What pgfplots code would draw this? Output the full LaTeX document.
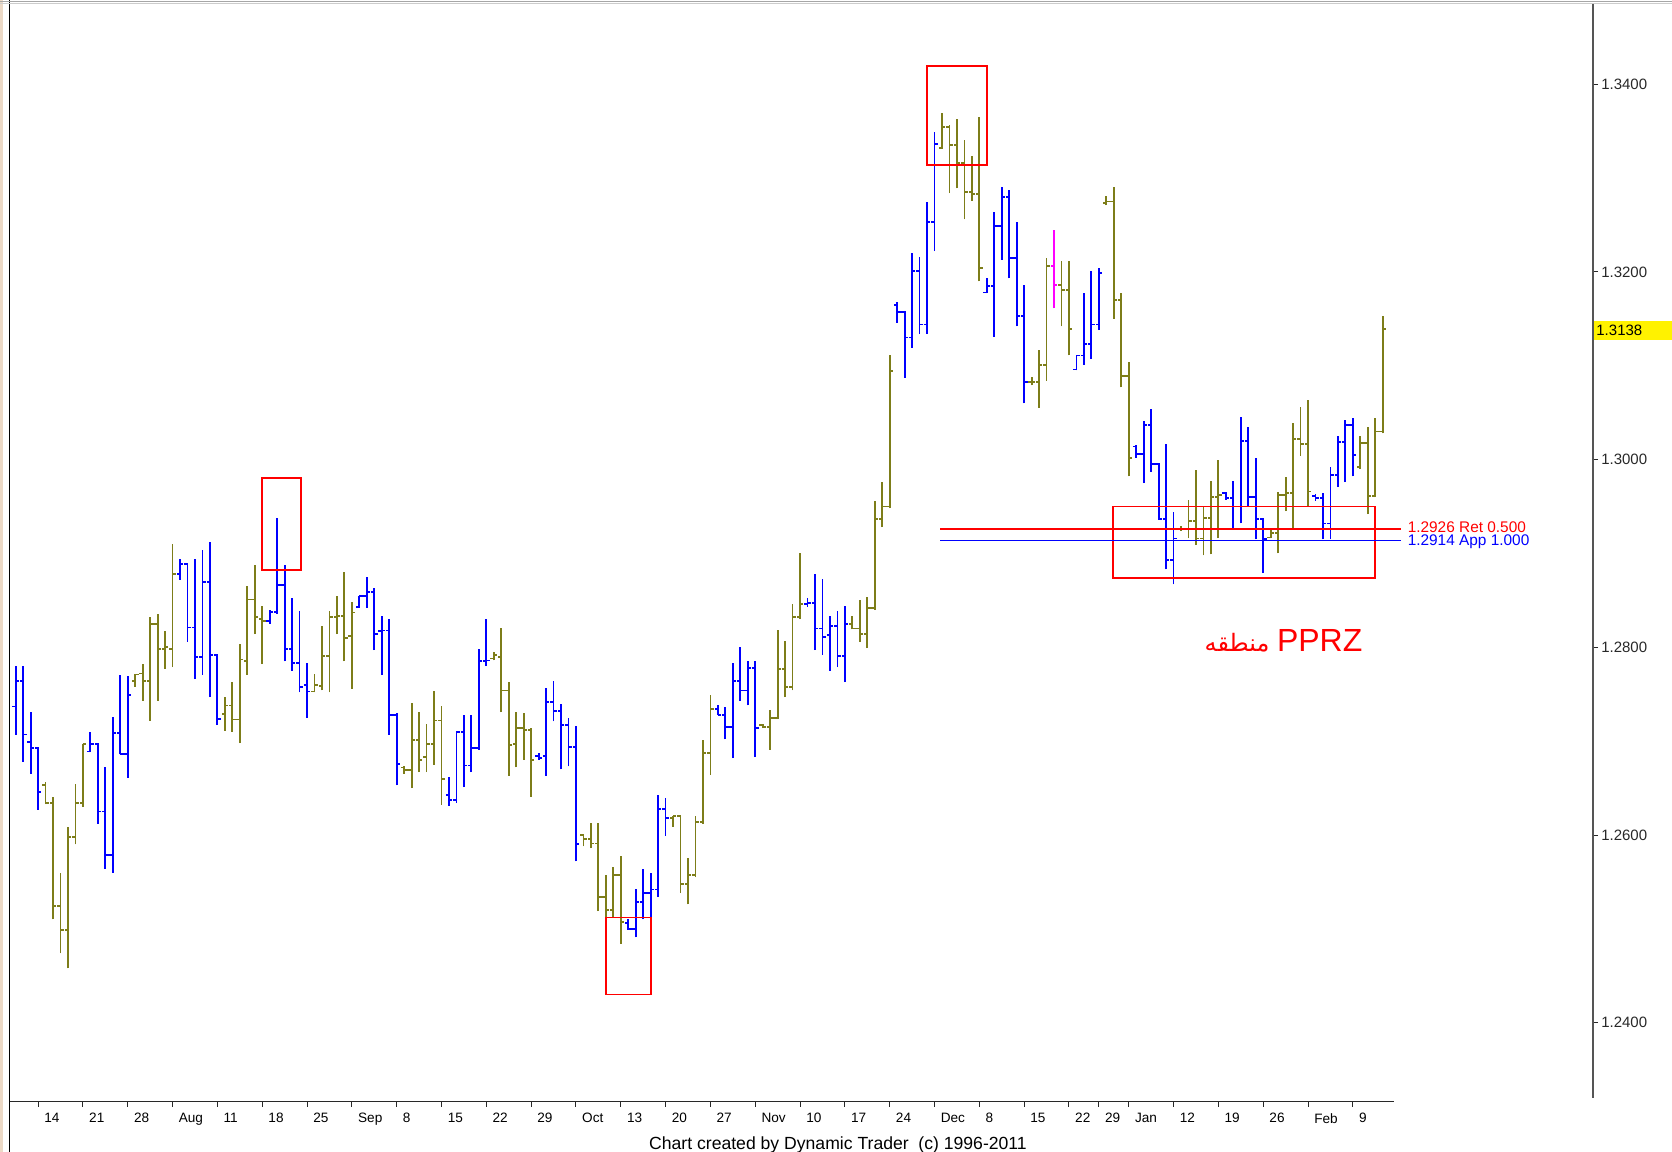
\documentclass[border=0pt]{standalone}
\usepackage{pgfplots}
\pgfplotsset{compat=1.18}
\usepackage{pgfplotstable}
\usepackage{fontspec}
\setmainfont{Liberation Sans}
\newfontfamily\arabicfont[Script=Arabic]{DejaVu Sans}
\TeXXeTstate=1
\definecolor{barblue}{RGB}{0,0,255}
\definecolor{barolive}{RGB}{125,125,25}
\definecolor{barmag}{RGB}{255,0,255}
\definecolor{tickgray}{RGB}{40,40,40}
\definecolor{axgray}{RGB}{85,85,85}

% x = bar index, o h l c = open high low close
\pgfplotstableread{
x o h l c
0 1.2737 1.2780 1.2707 1.2764
1 1.2764 1.2780 1.2678 1.2707
2 1.2699 1.2731 1.2665 1.2693
3 1.2693 1.2694 1.2627 1.2646
10 1.2689 1.2710 1.2688 1.2697
11 1.2697 1.2698 1.2612 1.2625
12 1.2625 1.2672 1.2564 1.2579
13 1.2579 1.2726 1.2560 1.2709
14 1.2709 1.2770 1.2686 1.2686
15 1.2686 1.2769 1.2661 1.2749
22 1.2878 1.2894 1.2872 1.2889
23 1.2889 1.2890 1.2806 1.2821
24 1.2821 1.2894 1.2766 1.2790
25 1.2790 1.2904 1.2771 1.2870
26 1.2870 1.2912 1.2747 1.2792
27 1.2792 1.2793 1.2717 1.2724
34 1.2828 1.2840 1.2825 1.2838
35 1.2838 1.2938 1.2836 1.2866
36 1.2866 1.2888 1.2785 1.2798
37 1.2798 1.2852 1.2775 1.2783
38 1.2783 1.2839 1.2752 1.2758
39 1.2760 1.2783 1.2725 1.2753
46 1.2843 1.2855 1.2842 1.2855
47 1.2855 1.2875 1.2842 1.2859
48 1.2859 1.2863 1.2797 1.2814
49 1.2817 1.2833 1.2771 1.2818
50 1.2818 1.2830 1.2707 1.2728
51 1.2728 1.2730 1.2653 1.2676
58 1.2643 1.2662 1.2631 1.2637
59 1.2637 1.2710 1.2634 1.2710
60 1.2710 1.2728 1.2651 1.2674
61 1.2674 1.2728 1.2667 1.2693
62 1.2693 1.2798 1.2691 1.2785
63 1.2785 1.2830 1.2780 1.2786
70 1.2684 1.2687 1.2680 1.2682
71 1.2684 1.2757 1.2663 1.2742
72 1.2742 1.2764 1.2721 1.2732
73 1.2732 1.2740 1.2670 1.2717
74 1.2717 1.2725 1.2673 1.2694
75 1.2694 1.2716 1.2572 1.2590
82 1.2506 1.2511 1.2499 1.2500
83 1.2500 1.2542 1.2491 1.2529
84 1.2529 1.2564 1.2510 1.2538
85 1.2538 1.2559 1.2502 1.2542
86 1.2542 1.2643 1.2534 1.2628
87 1.2628 1.2639 1.2599 1.2618
94 1.2734 1.2738 1.2728 1.2728
95 1.2728 1.2736 1.2702 1.2715
96 1.2715 1.2783 1.2682 1.2764
97 1.2764 1.2800 1.2743 1.2754
98 1.2754 1.2785 1.2738 1.2778
99 1.2778 1.2785 1.2683 1.2714
106 1.2846 1.2852 1.2843 1.2847
107 1.2847 1.2878 1.2797 1.2820
108 1.2820 1.2873 1.2792 1.2811
109 1.2813 1.2833 1.2775 1.2823
110 1.2823 1.2839 1.2779 1.2791
111 1.2791 1.2844 1.2763 1.2825
118 1.3165 1.3168 1.3146 1.3157
119 1.3157 1.3158 1.3087 1.3130
120 1.3130 1.3220 1.3119 1.3201
121 1.3201 1.3216 1.3134 1.3144
122 1.3144 1.3274 1.3134 1.3253
123 1.3253 1.3349 1.3222 1.3336
130 1.3178 1.3194 1.3177 1.3185
131 1.3185 1.3264 1.3131 1.3249
132 1.3249 1.3290 1.3213 1.3280
133 1.3280 1.3287 1.3193 1.3215
134 1.3215 1.3253 1.3142 1.3153
135 1.3153 1.3186 1.3060 1.3083
142 1.3096 1.3111 1.3095 1.3111
143 1.3111 1.3178 1.3101 1.3123
144 1.3123 1.3201 1.3107 1.3144
145 1.3144 1.3204 1.3138 1.3199
150 1.3014 1.3016 1.3002 1.3006
151 1.3006 1.3041 1.2975 1.3037
152 1.3037 1.3054 1.2987 1.2995
153 1.2995 1.2996 1.2936 1.2937
154 1.2937 1.3017 1.2883 1.2893
155 1.2893 1.2944 1.2867 1.2916
162 1.2964 1.2965 1.2957 1.2959
163 1.2959 1.2977 1.2925 1.2950
164 1.2950 1.3045 1.2932 1.3020
165 1.3020 1.3035 1.2950 1.2960
166 1.2960 1.3002 1.2915 1.2937
167 1.2937 1.2938 1.2879 1.2915
174 1.2961 1.2963 1.2956 1.2959
175 1.2959 1.2964 1.2915 1.2932
176 1.2932 1.2992 1.2915 1.2984
177 1.2984 1.3025 1.2971 1.3019
178 1.3019 1.3042 1.2976 1.3037
179 1.3037 1.3044 1.2982 1.3005
}\blueBars

\pgfplotstableread{
x o h l c
4 1.2653 1.2656 1.2633 1.2634
5 1.2634 1.2641 1.2510 1.2524
6 1.2524 1.2559 1.2474 1.2499
7 1.2499 1.2608 1.2458 1.2598
8 1.2598 1.2654 1.2590 1.2634
9 1.2634 1.2697 1.2630 1.2697
16 1.2764 1.2772 1.2758 1.2771
17 1.2772 1.2782 1.2743 1.2764
18 1.2764 1.2832 1.2722 1.2825
19 1.2825 1.2835 1.2743 1.2798
20 1.2798 1.2817 1.2777 1.2800
21 1.2798 1.2910 1.2779 1.2878
28 1.2729 1.2747 1.2711 1.2738
29 1.2738 1.2763 1.2710 1.2723
30 1.2723 1.2804 1.2698 1.2787
31 1.2785 1.2865 1.2771 1.2851
32 1.2851 1.2888 1.2814 1.2832
33 1.2830 1.2844 1.2782 1.2828
40 1.2753 1.2772 1.2752 1.2760
41 1.2759 1.2823 1.2754 1.2791
42 1.2791 1.2839 1.2752 1.2832
43 1.2832 1.2855 1.2814 1.2833
44 1.2833 1.2880 1.2785 1.2810
45 1.2812 1.2848 1.2756 1.2837
52 1.2672 1.2673 1.2665 1.2669
53 1.2669 1.2741 1.2650 1.2701
54 1.2701 1.2731 1.2667 1.2680
55 1.2683 1.2718 1.2667 1.2697
56 1.2697 1.2753 1.2675 1.2722
57 1.2722 1.2737 1.2632 1.2660
64 1.2788 1.2795 1.2786 1.2792
65 1.2790 1.2821 1.2731 1.2754
66 1.2754 1.2763 1.2663 1.2696
67 1.2697 1.2731 1.2672 1.2714
68 1.2714 1.2730 1.2680 1.2712
69 1.2712 1.2714 1.2641 1.2680
76 1.2600 1.2601 1.2588 1.2596
77 1.2596 1.2613 1.2586 1.2591
78 1.2591 1.2613 1.2519 1.2534
79 1.2534 1.2557 1.2504 1.2520
80 1.2520 1.2566 1.2513 1.2557
81 1.2557 1.2578 1.2484 1.2507
88 1.2618 1.2620 1.2609 1.2620
89 1.2620 1.2621 1.2538 1.2548
90 1.2548 1.2576 1.2526 1.2557
91 1.2557 1.2620 1.2555 1.2614
92 1.2614 1.2701 1.2612 1.2687
93 1.2687 1.2749 1.2664 1.2734
100 1.2717 1.2718 1.2714 1.2715
101 1.2715 1.2733 1.2691 1.2725
102 1.2725 1.2818 1.2724 1.2777
103 1.2777 1.2807 1.2747 1.2758
104 1.2758 1.2846 1.2754 1.2832
105 1.2832 1.2901 1.2830 1.2846
112 1.2825 1.2833 1.2819 1.2820
113 1.2820 1.2850 1.2806 1.2814
114 1.2814 1.2854 1.2799 1.2842
115 1.2842 1.2956 1.2840 1.2937
116 1.2937 1.2976 1.2928 1.2950
117 1.2950 1.3111 1.2948 1.3094
124 1.3332 1.3369 1.3331 1.3354
125 1.3354 1.3356 1.3284 1.3335
126 1.3335 1.3363 1.3289 1.3316
127 1.3316 1.3341 1.3256 1.3285
128 1.3285 1.3324 1.3276 1.3283
129 1.3283 1.3365 1.3190 1.3204
136 1.3083 1.3088 1.3079 1.3083
137 1.3083 1.3117 1.3055 1.3101
138 1.3101 1.3215 1.3084 1.3206
140 1.3186 1.3212 1.3142 1.3181
141 1.3181 1.3212 1.3111 1.3139
146 1.3273 1.3281 1.3271 1.3275
147 1.3275 1.3290 1.3150 1.3170
148 1.3170 1.3178 1.3077 1.3089
149 1.3089 1.3104 1.2982 1.3002
156 1.2926 1.2929 1.2924 1.2926
157 1.2926 1.2957 1.2916 1.2935
158 1.2935 1.2989 1.2909 1.2916
159 1.2916 1.2950 1.2898 1.2938
160 1.2938 1.2977 1.2899 1.2960
161 1.2960 1.3000 1.2916 1.2962
168 1.2917 1.2926 1.2916 1.2922
169 1.2922 1.2966 1.2900 1.2962
170 1.2962 1.2981 1.2945 1.2964
171 1.2964 1.3039 1.2926 1.3022
172 1.3022 1.3056 1.3004 1.3017
173 1.3017 1.3063 1.2951 1.2966
180 1.2992 1.3025 1.2990 1.3018
181 1.3018 1.3035 1.2942 1.2961
182 1.2961 1.3044 1.2960 1.3030
183 1.3030 1.3153 1.3028 1.3139
}\oliveBars

\pgfplotstableread{
x o h l c
139 1.3206 1.3245 1.3161 1.3186
}\magBars

\begin{document}
\begin{tikzpicture}
\useasboundingbox (0,0) rectangle (836pt,576pt);
\fill[white] (0,0) rectangle (836pt,576pt);
\begin{axis}[
  at={(5pt,25.25pt)}, anchor=south west,
  width=791.5pt, height=548.75pt, scale only axis,
  xmin=-0.763, xmax=211.15, ymin=1.231604, ymax=1.348546,
  clip=false,
  axis line style={draw=none},
  xtick={3,9,15,21,27,33,39,45,51,57,63,69,75,81,87,93,99,105,111,117,123,129,135,141,145,149,155,161,167,173,179},
  xticklabels={14,21,28,Aug,11,18,25,Sep,8,15,22,29,Oct,13,20,27,Nov,10,17,24,Dec,8,15,22,29,Jan,12,19,26,Feb,9},
  ytick={1.24,1.26,1.28,1.30,1.32,1.34},
  xtick pos=bottom, ytick pos=right, yticklabel pos=right,
  tick align=outside,
  major tick length=2.6pt,
  every tick/.style={tickgray, line width=0.5pt},
  scaled y ticks=false,
  xticklabel style={font=\fontsize{6.8}{8}\selectfont, text=black, anchor=north west, xshift=-0.4pt, yshift=0.2pt},
  yticklabel style={font=\fontsize{7.5}{9}\selectfont, text=tickgray, anchor=west, xshift=-2pt,
    /pgf/number format/fixed, /pgf/number format/fixed zerofill,
    /pgf/number format/precision=4, /pgf/number format/assume math mode=true},
]
% blue bars
\addplot[barblue, line width=0.9pt, quiver={u=0, v=\thisrow{h}-\thisrow{l}}] table[x=x, y=l] {\blueBars};
\addplot[barblue, line width=0.9pt, quiver={u=-0.45, v=0}] table[x=x, y=o] {\blueBars};
\addplot[barblue, line width=0.9pt, quiver={u=0.45, v=0}] table[x=x, y=c] {\blueBars};
% olive bars
\addplot[barolive, line width=0.9pt, quiver={u=0, v=\thisrow{h}-\thisrow{l}}] table[x=x, y=l] {\oliveBars};
\addplot[barolive, line width=0.9pt, quiver={u=-0.45, v=0}] table[x=x, y=o] {\oliveBars};
\addplot[barolive, line width=0.9pt, quiver={u=0.45, v=0}] table[x=x, y=c] {\oliveBars};
% magenta bar
\addplot[barmag, line width=0.9pt, quiver={u=0, v=\thisrow{h}-\thisrow{l}}] table[x=x, y=l] {\magBars};
\addplot[barmag, line width=0.9pt, quiver={u=-0.45, v=0}] table[x=x, y=o] {\magBars};
\addplot[barmag, line width=0.9pt, quiver={u=0.45, v=0}] table[x=x, y=c] {\magBars};

% red boxes
\draw[red, line width=0.9pt] (axis cs:33.0,1.2882) rectangle (axis cs:38.2,1.2980);
\draw[red, line width=0.9pt] (axis cs:79.0,1.2430) rectangle (axis cs:85.0,1.2512);
\draw[red, line width=0.9pt] (axis cs:121.95,1.3314) rectangle (axis cs:129.98,1.3419);
\draw[red, line width=0.9pt] (axis cs:146.9,1.2874) rectangle (axis cs:182.0,1.2950);
% Ret / App lines
\draw[red, line width=0.7pt] (axis cs:123.8,1.2926) -- (axis cs:185.4,1.2926);
\draw[barblue, line width=0.7pt] (axis cs:123.8,1.2914) -- (axis cs:185.4,1.2914);
\node[anchor=west, text=red, font=\fontsize{7.7}{8}\selectfont, inner sep=0pt] at (axis cs:186.3,1.29275) {1.2926 Ret 0.500};
\node[anchor=west, text=barblue, font=\fontsize{7.7}{8}\selectfont, inner sep=0pt] at (axis cs:186.3,1.29125) {1.2914 App 1.000};
% PPRZ label
\node[anchor=base west, text=red, font=\fontsize{16}{18}\selectfont, inner sep=0pt] at (axis cs:168.8,1.2796) {PPRZ};
\node[anchor=base east, text=red, font=\fontsize{12}{14}\selectfont, inner sep=0pt] at (axis cs:167.9,1.2796) {\arabicfont\beginR منطقه\endR};
% last price label
\node[anchor=west, fill=yellow, minimum width=40pt, minimum height=9.5pt, inner sep=1pt, text=black,
  font=\fontsize{7.5}{8}\selectfont, align=left, text width=37pt] at (axis cs:211.15,1.3138) {1.3138};
\end{axis}
% frame lines
\fill[brown!30] (0,0) rectangle (1.5pt,576pt);
\draw[black, line width=0.6pt] (4.9pt,0) -- (4.9pt,576pt);
\draw[gray!70, line width=0.6pt] (0,575.3pt) -- (836pt,575.3pt);
\draw[gray!40, line width=0.8pt] (0,574.2pt) -- (836pt,574.2pt);
\draw[tickgray, line width=0.9pt] (5pt,25.25pt) -- (697pt,25.25pt);
\draw[axgray, line width=1.2pt] (796.5pt,574pt) -- (796.5pt,27pt);
\node[anchor=base, font=\fontsize{8.8}{10}\selectfont, inner sep=0pt] at (419pt,1.3pt) {Chart created by Dynamic Trader\ \ (c) 1996-2011};
\end{tikzpicture}
\end{document}
